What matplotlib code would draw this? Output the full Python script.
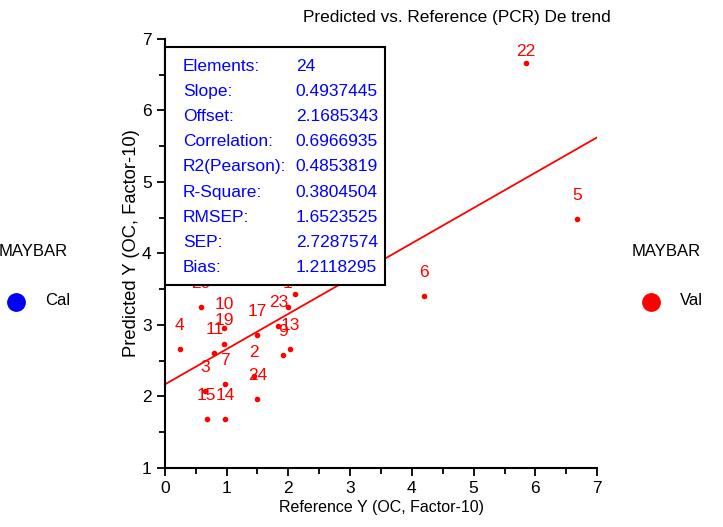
import matplotlib
matplotlib.use('Agg')
import matplotlib.pyplot as plt
from matplotlib.patches import Rectangle
from matplotlib.lines import Line2D
from matplotlib.ticker import MultipleLocator

plt.rcParams['font.family'] = ['Liberation Sans', 'DejaVu Sans']

# sample data (reference vs predicted)
sample_ids = ['1', '2', '3', '4', '5', '6', '7', '8', '9', '10', '11', '12',
              '13', '14', '15', '16', '17', '18', '19', '20', '21', '22', '23', '24']
ref_y = [1.99, 1.44, 0.65, 0.24, 6.68, 4.20, 0.98, 1.20, 1.92, 0.96, 0.80, 2.50,
         2.03, 0.98, 0.68, 0.80, 1.50, 3.00, 0.96, 0.58, 2.10, 5.85, 1.84, 1.50]
pred_y = [3.25, 2.28, 2.07, 2.66, 4.48, 3.40, 2.17, 4.50, 2.58, 2.96, 2.61, 5.20,
          2.66, 1.69, 1.69, 3.90, 2.86, 4.10, 2.73, 3.25, 3.43, 6.67, 2.98, 1.97]

slope = 0.4937445
offset = 2.1685343

stat_names = ['Elements:', 'Slope:', 'Offset:', 'Correlation:', 'R2(Pearson):',
              'R-Square:', 'RMSEP:', 'SEP:', 'Bias:']
stat_values = ['24', '0.4937445', '2.1685343', '0.6966935', '0.4853819',
               '0.3804504', '1.6523525', '2.7287574', '1.2118295']

fig = plt.figure(figsize=(7.23, 5.27), dpi=100)
ax = fig.add_axes([0.228, 0.112, 0.598, 0.814])

ax.scatter(ref_y, pred_y, s=9, color='red', zorder=3)
for name, x, y in zip(sample_ids, ref_y, pred_y):
    dy = 17
    if y > 6.5:
        dy = 8  # keep label inside the plot
    ax.annotate(name, (x, y), xytext=(0, dy), textcoords='offset points',
                ha='center', va='center', color='red', fontsize=12.5, zorder=3)

ax.plot([0, 7], [offset, offset + slope * 7], color='red', lw=1.3, zorder=2)

ax.set_xlim(0, 7)
ax.set_ylim(1, 7)
ax.xaxis.set_major_locator(MultipleLocator(1))
ax.xaxis.set_minor_locator(MultipleLocator(0.5))
ax.yaxis.set_major_locator(MultipleLocator(1))
ax.yaxis.set_minor_locator(MultipleLocator(0.5))
ax.tick_params(which='both', direction='out', width=1.3, labelsize=12.5)
ax.tick_params(which='major', length=6)
ax.tick_params(which='minor', length=4)
for side in ['top', 'right']:
    ax.spines[side].set_visible(False)
for side in ['left', 'bottom']:
    ax.spines[side].set_linewidth(1.5)
ax.set_xlabel('Reference Y (OC, Factor-10)', fontsize=11.5, labelpad=3)
ax.set_ylabel('Predicted Y (OC, Factor-10)', fontsize=13.2)
ax.yaxis.set_label_coords(-0.057, 0.524)

# stats box
box = Rectangle((0.0, 0.427), 0.509, 0.555, transform=ax.transAxes,
                facecolor='white', edgecolor='black', lw=1.5, zorder=5, clip_on=False)
ax.add_patch(box)
for i, (n, v) in enumerate(zip(stat_names, stat_values)):
    yy = 0.937 - i * 0.0588
    ax.text(0.042, yy, n, transform=ax.transAxes, color='blue', fontsize=12.5,
            va='center', zorder=6)
    ax.text(0.303, yy, v, transform=ax.transAxes, color='blue', fontsize=12.5,
            va='center', zorder=6)

fig.text(0.632, 0.967, 'Predicted vs. Reference (PCR) De trend', ha='center',
         va='center', fontsize=12.4)

# group markers on both sides
fig.text(0.046, 0.522, 'MAYBAR', ha='center', va='center', fontsize=12)
fig.add_artist(Line2D([0.0228], [0.427], marker='o', markersize=12.5, color='blue',
                      transform=fig.transFigure))
fig.text(0.063, 0.43, 'Cal', ha='left', va='center', fontsize=12)
fig.text(0.921, 0.522, 'MAYBAR', ha='center', va='center', fontsize=12)
fig.add_artist(Line2D([0.900], [0.427], marker='o', markersize=12.5, color='red',
                      transform=fig.transFigure))
fig.text(0.940, 0.43, 'Val', ha='left', va='center', fontsize=12)

fig.savefig('out.png', dpi=100)
